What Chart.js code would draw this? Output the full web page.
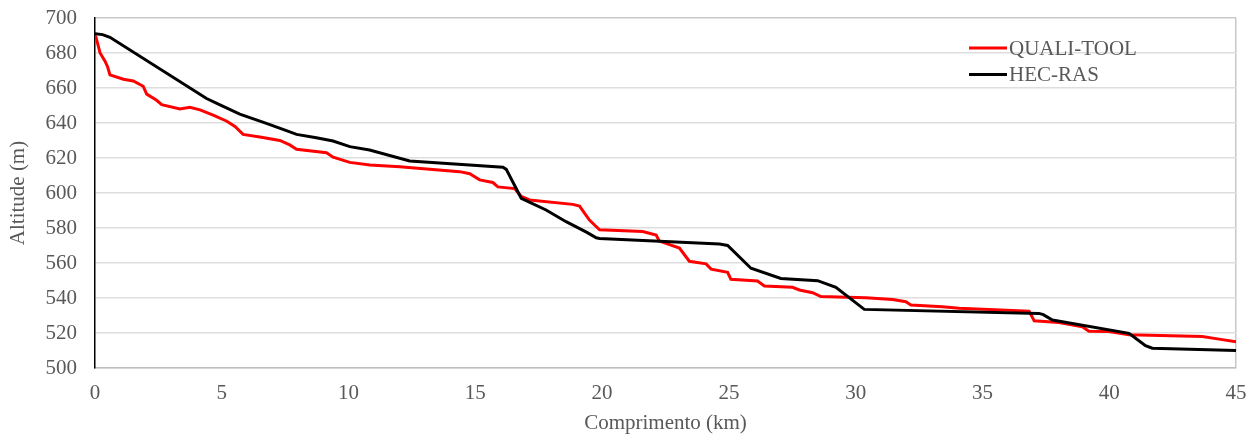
<!DOCTYPE html>
<html>
<head>
<meta charset="utf-8">
<script src="https://cdn.jsdelivr.net/npm/chart.js@4.4.1/dist/chart.umd.min.js"></script>
<style>
  body { margin: 0; background: #fff; }
  canvas { display: block; }
</style>
</head>
<body>
<canvas id="profile" width="1258" height="436"></canvas>
<script>
// Longitudinal profile: distance (km) vs altitude (m)
const qualiKm = [0, 0.04, 0.2, 0.39, 0.5, 0.59, 1.12, 1.51, 1.9, 2.04, 2.43, 2.63, 3.35, 3.74, 4.14, 4.66, 5.2, 5.52, 5.84, 6.5, 7.29, 7.68, 7.95, 9.13, 9.39, 10.05, 10.84, 12.02, 14.38, 14.78, 15.17, 15.69, 15.89, 16.55, 16.81, 17.14, 18.84, 19.11, 19.5, 19.9, 21.6, 22.13, 22.26, 23.05, 23.44, 24.1, 24.3, 24.95, 25.08, 26.13, 26.4, 27.51, 27.78, 28.3, 28.63, 30.4, 31.46, 31.98, 32.18, 33.42, 34.08, 36.84, 37.04, 38.02, 38.94, 39.2, 39.99, 40.78, 43.67, 44.33, 45];
const qualiAlt = [690, 689, 680, 675.5, 672, 667.5, 665, 664, 661, 656.5, 653, 650.5, 648, 649, 647.5, 644.5, 641, 638, 633.5, 632, 630, 627.5, 625, 623, 620.5, 617.5, 616, 615, 612.2, 611, 607.5, 606, 603.5, 602.5, 598, 596, 593.5, 592.5, 584.5, 579, 578, 576, 572.5, 568.5, 561, 559.5, 556.5, 554.7, 550.7, 549.7, 546.9, 546.1, 544.6, 543, 540.8, 540.2, 539.2, 537.9, 536, 535, 534.1, 532.5, 527, 526, 523.6, 521, 520.8, 519, 518, 516.5, 515];

const hecKm = [0, 0.3, 0.59, 4.4, 4.93, 5.71, 6.76, 7.55, 7.95, 8.73, 9.39, 10.05, 10.83, 12.41, 16.09, 16.22, 16.81, 17.79, 18.58, 19.4, 19.77, 19.9, 24.63, 24.95, 25.87, 27.05, 28.5, 29.22, 30.34, 37.23, 37.4, 37.76, 40.78, 41.04, 41.43, 41.7, 45];
const hecAlt = [691, 690.5, 689, 654, 650.3, 645.1, 639.8, 635.6, 633.5, 631.6, 629.7, 626.5, 624.6, 618.3, 614.7, 613.5, 597, 590.3, 583.6, 577.5, 574.4, 574, 570.8, 570, 557, 551.2, 549.9, 546.1, 533.5, 531.2, 530.5, 527.4, 519.8, 517, 512.8, 511.3, 510];

const seriesNames = ['QUALI-TOOL', 'HEC-RAS'];
const seriesColors = ['#ff0000', '#000000'];

const xTitle = 'Comprimento (km)';
const yTitle = 'Altitude (m)';

const textColor = '#595959';
const fontFamily = '"Liberation Serif", "Times New Roman", serif';

function toPoints(xs, ys) {
    return xs.map((x, i) => ({ x: x, y: ys[i] }));
}

// small legend drawn inside the plot, top right
const innerLegend = {
    id: 'innerLegend',
    afterDraw(chart) {
        const ctx = chart.ctx;
        ctx.save();
        ctx.font = '21px ' + fontFamily;
        ctx.textBaseline = 'middle';
        chart.data.datasets.forEach((ds, i) => {
            const y = 48 + i * 26.5;
            ctx.strokeStyle = ds.borderColor;
            ctx.lineWidth = 3;
            ctx.beginPath();
            ctx.moveTo(969, y);
            ctx.lineTo(1007, y);
            ctx.stroke();
            ctx.fillStyle = textColor;
            ctx.fillText(ds.label, 1009, y + 1);
        });
        ctx.restore();
    }
};

const ctx = document.getElementById('profile').getContext('2d');
new Chart(ctx, {
    type: 'scatter',
    data: {
        datasets: [{
            label: seriesNames[0],
            data: toPoints(qualiKm, qualiAlt),
            showLine: true,
            borderColor: seriesColors[0],
            borderWidth: 3,
            pointRadius: 0,
            tension: 0,
            order: 1
        }, {
            label: seriesNames[1],
            data: toPoints(hecKm, hecAlt),
            showLine: true,
            borderColor: seriesColors[1],
            borderWidth: 3,
            pointRadius: 0,
            tension: 0,
            order: 0
        }]
    },
    options: {
        responsive: false,
        animation: false,
        layout: { padding: { top: 18, right: 22, left: 0, bottom: 0 } },
        plugins: {
            legend: { display: false },
            tooltip: { enabled: false }
        },
        scales: {
            x: {
                type: 'linear',
                min: 0,
                max: 45,
                afterFit: (scale) => { scale.height = 68; },
                ticks: {
                    stepSize: 5,
                    color: textColor,
                    padding: 0,
                    font: { family: fontFamily, size: 21 }
                },
                grid: {
                    // invisible tick marks used only as label offset
                    drawTicks: true,
                    tickLength: 13,
                    tickColor: 'rgba(0,0,0,0)',
                    lineWidth: 1.5,
                    color: (c) => (c.tick && c.tick.value === 45 ? '#c8c8c8' : 'rgba(0,0,0,0)')
                },
                border: { color: '#bfbfbf', width: 1.5 },
                title: {
                    display: true,
                    text: xTitle,
                    color: textColor,
                    font: { family: fontFamily, size: 21 },
                    padding: { top: 0, bottom: 0 }
                }
            },
            y: {
                min: 500,
                max: 700,
                afterFit: (scale) => { scale.width = 95; },
                ticks: {
                    stepSize: 20,
                    color: textColor,
                    padding: 0,
                    font: { family: fontFamily, size: 21 }
                },
                grid: {
                    drawTicks: true,
                    tickLength: 18,
                    tickColor: 'rgba(0,0,0,0)',
                    lineWidth: 1.5,
                    color: (c) => (c.tick && c.tick.value === 700 ? '#c8c8c8' : '#dedede')
                },
                border: { color: '#000000', width: 1.5 },
                title: {
                    display: true,
                    text: yTitle,
                    color: textColor,
                    font: { family: fontFamily, size: 21 },
                    padding: { top: 6, bottom: 0 }
                }
            }
        }
    },
    plugins: [innerLegend]
});
</script>
</body>
</html>
